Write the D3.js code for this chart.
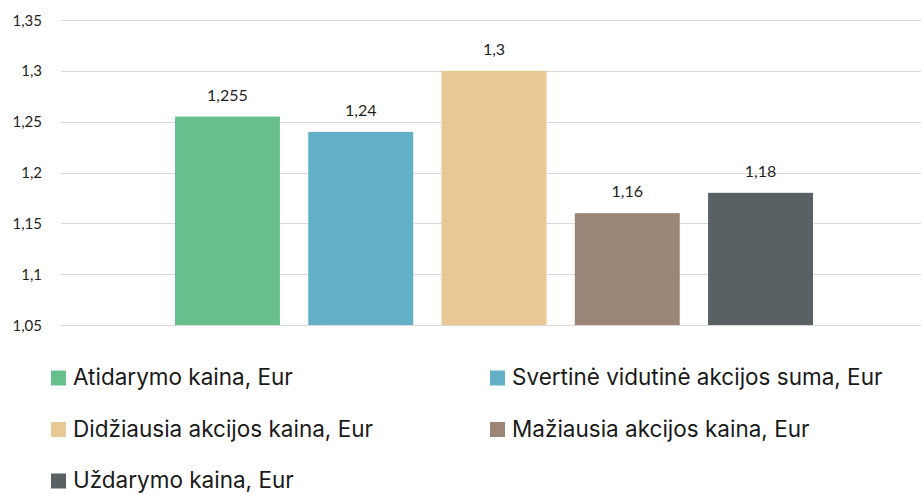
<!DOCTYPE html>
<html><head><meta charset="utf-8">
<script src="https://cdn.jsdelivr.net/npm/d3@7"></script>
<style>body{margin:0;background:#fff}svg{display:block}</style>
</head><body>
<svg id="c" width="921" height="494"></svg>
<script>
const seriesNames = ["Atidarymo kaina, Eur","Svertinė vidutinė akcijos suma, Eur","Didžiausia akcijos kaina, Eur","Mažiausia akcijos kaina, Eur","Uždarymo kaina, Eur"];
const seriesValues = [1.255, 1.24, 1.3, 1.16, 1.18];
const seriesColors = ["#67c08b","#63afc6","#e8c995","#9b8576","#5a6164"];
const yTicks = [1.05, 1.1, 1.15, 1.2, 1.25, 1.3, 1.35];

const fmt = v => String(v).replace(".", ",");
const svg = d3.select("#c");
const y = d3.scaleLinear().domain([1.05, 1.35]).range([325, 20]);
const x = d3.scaleBand().domain(seriesNames).range([175, 813]).paddingInner(0.2125).paddingOuter(0);

svg.append("g").selectAll("line").data(yTicks).join("line")
  .attr("x1", 61).attr("x2", 921)
  .attr("y1", d => Math.round(y(d)) + 0.5).attr("y2", d => Math.round(y(d)) + 0.5)
  .attr("stroke", "#d9d9d9").attr("stroke-width", 1);

svg.append("g").selectAll("text").data(yTicks).join("text")
  .attr("x", 42).attr("y", d => y(d) + 5.5)
  .attr("text-anchor", "end")
  .attr("font-family", "Lato, sans-serif").attr("font-size", 15)
  .attr("fill", "#1f1f1f").text(d => fmt(d));

const data = seriesNames.map((n, i) => ({name: n, value: seriesValues[i], color: seriesColors[i]}));
svg.append("g").selectAll("rect").data(data).join("rect")
  .attr("x", d => x(d.name)).attr("width", x.bandwidth())
  .attr("y", d => y(d.value)).attr("height", d => y(1.05) - y(d.value))
  .attr("fill", d => d.color);

svg.append("g").selectAll("text").data(data).join("text")
  .attr("x", d => x(d.name) + x.bandwidth() / 2).attr("y", d => y(d.value) - 16)
  .attr("text-anchor", "middle")
  .attr("font-family", "Lato, sans-serif").attr("font-size", 16)
  .attr("fill", "#1f1f1f").text(d => fmt(d.value));

const lg = svg.append("g").selectAll("g").data(data).join("g")
  .attr("transform", (d, i) => `translate(${i % 2 === 0 ? 51 : 490},${385 + Math.floor(i / 2) * 51.5})`);
lg.append("rect").attr("x", 0).attr("y", -14.5).attr("width", 15).attr("height", 15).attr("fill", d => d.color);
lg.append("text").attr("x", 22).attr("y", 0)
  .attr("font-family", "Inter, sans-serif").attr("font-size", 22.5)
  .attr("fill", "#1a1a1a").text(d => d.name);
</script>
</body></html>
